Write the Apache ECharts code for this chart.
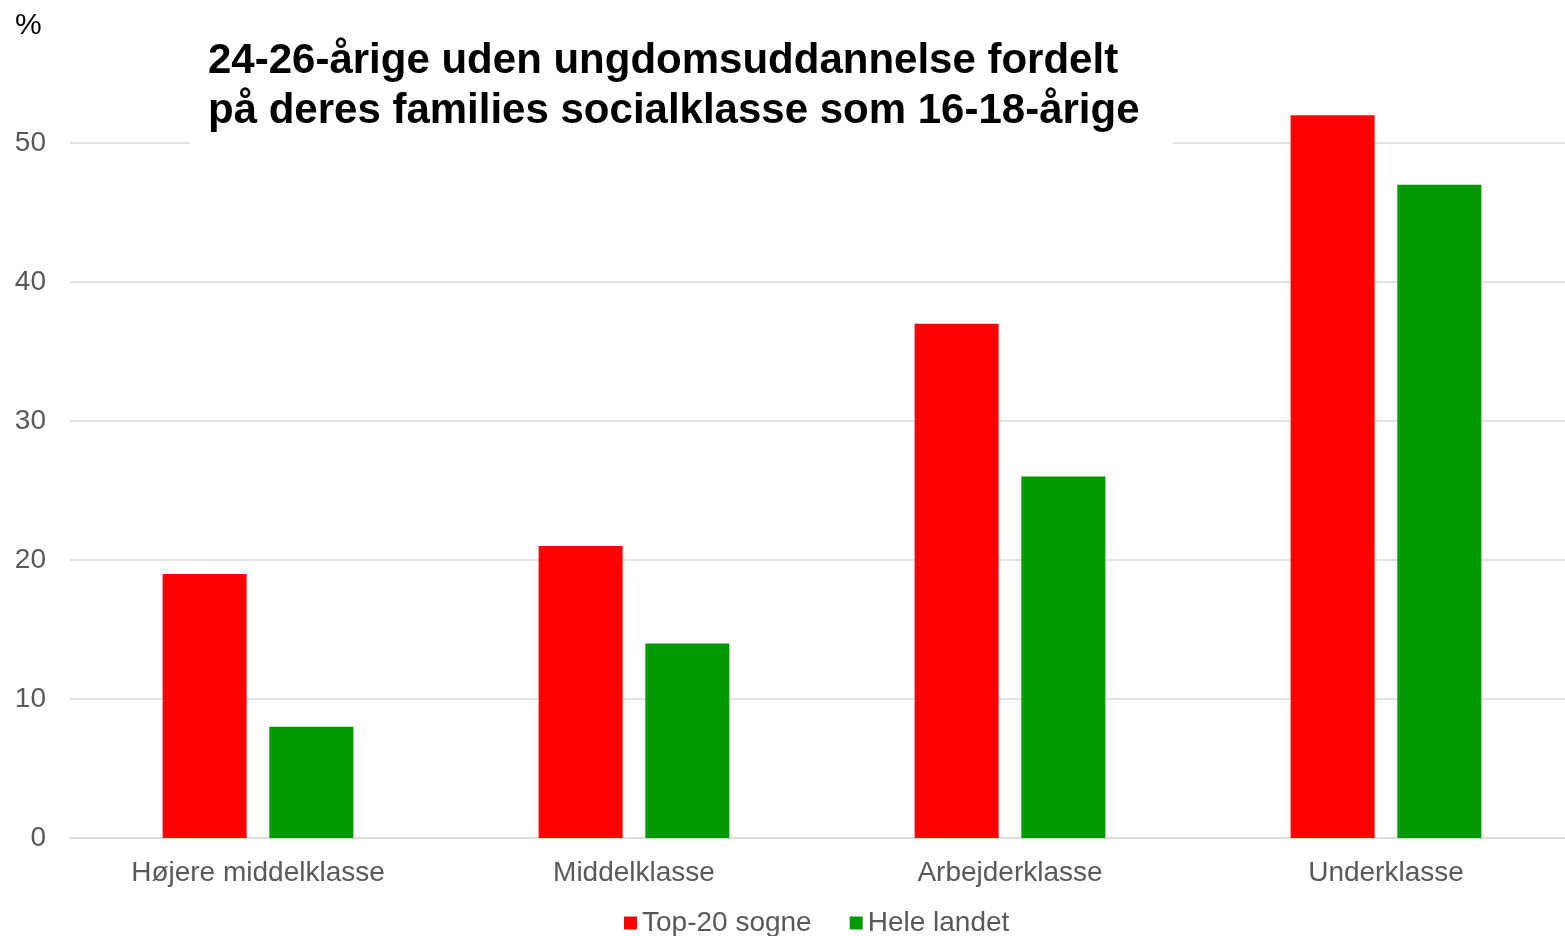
<!DOCTYPE html>
<html>
<head>
<meta charset="utf-8">
<script src="https://cdn.jsdelivr.net/npm/echarts@6/dist/echarts.min.js"></script>
<style>
  html, body { margin: 0; padding: 0; background: #fff; }
  #main { width: 1565px; height: 936px; }
</style>
</head>
<body>
<div id="main"></div>
<script>
var chartDom = document.getElementById('main');
var myChart = echarts.init(chartDom);
var option;

// data
var categories = ['Højere middelklasse', 'Middelklasse', 'Arbejderklasse', 'Underklasse'];
var top20 = [19, 21, 37, 52];
var heleLandet = [8, 14, 26, 47];
var seriesNames = ['Top-20 sogne', 'Hele landet'];

var font = 'Liberation Sans, Arial, sans-serif';

option = {
    backgroundColor: '#ffffff',
    animation: false,
    title: [
        {
            text: '%',
            left: 10,
            top: 6,
            textStyle: { fontFamily: font, fontSize: 30, fontWeight: 'normal', color: '#000' }
        },
        {
            text: '24-26-årige uden ungdomsuddannelse fordelt\npå deres families socialklasse som 16-18-årige',
            left: 190,
            top: 28,
            padding: [8, 33, 14, 18],
            backgroundColor: '#ffffff',
            z: 10,
            textStyle: {
                fontFamily: font, fontSize: 42, fontWeight: 'bold', color: '#000',
                lineHeight: 50
            }
        }
    ],
    legend: {
        data: seriesNames,
        left: 619,
        top: 904,
        icon: 'rect',
        itemWidth: 13,
        itemHeight: 13,
        itemGap: 38,
        textStyle: { fontFamily: font, fontSize: 28, color: '#595959' }
    },
    grid: {
        left: 70,
        width: 1504,
        top: 4,
        bottom: 98,
        outerBoundsMode: 'none'
    },
    xAxis: {
        type: 'category',
        data: categories,
        axisLine: { lineStyle: { color: '#d9d9d9', width: 1.5 } },
        axisTick: { show: false },
        axisLabel: { fontFamily: font, fontSize: 28, color: '#595959', margin: 21 }
    },
    yAxis: {
        type: 'value',
        min: 0,
        max: 60,
        interval: 10,
        axisLine: { show: false },
        axisTick: { show: false },
        axisLabel: { fontFamily: font, fontSize: 28, color: '#595959', margin: 24, showMaxLabel: false },
        splitLine: { showMaxLine: false, lineStyle: { color: '#d9d9d9', width: 1.5 } }
    },
    series: [
        {
            name: seriesNames[0],
            type: 'bar',
            data: top20,
            barWidth: 84,
            barGap: '27%',
            itemStyle: { color: '#ff0000' }
        },
        {
            name: seriesNames[1],
            type: 'bar',
            data: heleLandet,
            barWidth: 84,
            itemStyle: { color: '#009900' }
        }
    ]
};

myChart.setOption(option);
</script>
</body>
</html>
